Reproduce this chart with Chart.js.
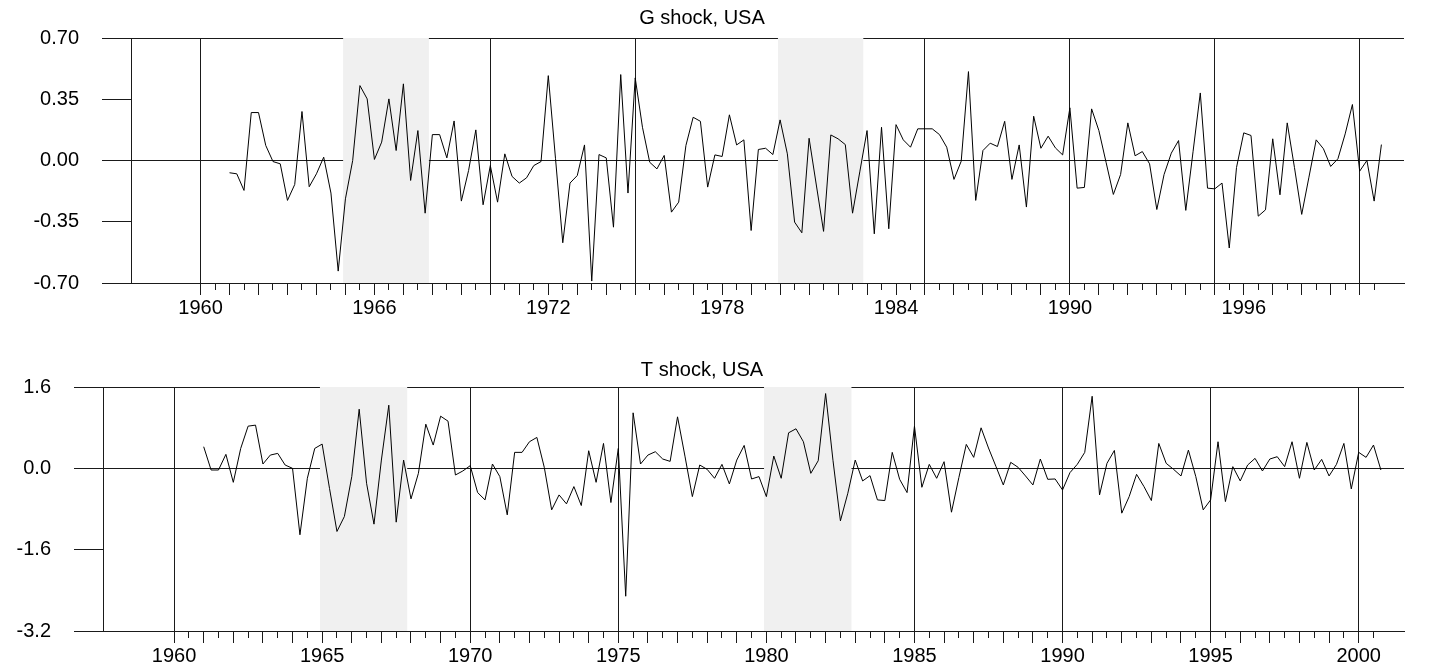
<!DOCTYPE html>
<html><head><meta charset="utf-8">
<script src="https://cdn.jsdelivr.net/npm/chart.js@4.4.1/dist/chart.umd.min.js"></script>
<style>
html,body{margin:0;padding:0;background:#fff;}
#wrap{position:relative;width:1444px;height:672px;overflow:hidden;}
canvas{position:absolute;left:0;}
#c1{top:0;} #c2{top:336px;}
</style></head><body>
<div id="wrap"><canvas id="c1" width="1444" height="336"></canvas><canvas id="c2" width="1444" height="336"></canvas></div>
<script>
// first observation: 1961 Q1, quarterly
const startYear = 1961.0;

const gShock = [
-0.070,-0.076,-0.171,0.274,0.274,0.086,-0.006,-0.019,-0.228,-0.137,
0.280,-0.150,-0.076,0.019,-0.186,-0.632,-0.219,0.000,0.428,0.352,
0.006,0.105,0.352,0.057,0.438,-0.114,0.171,-0.301,0.148,0.148,
0.015,0.226,-0.232,-0.057,0.175,-0.253,-0.029,-0.238,0.038,-0.091,
-0.129,-0.099,-0.029,-0.006,0.485,0.010,-0.470,-0.129,-0.086,0.089,
-0.689,0.034,0.015,-0.381,0.491,-0.186,0.472,0.190,-0.010,-0.048,
0.029,-0.295,-0.238,0.086,0.247,0.224,-0.152,0.032,0.023,0.261,
0.089,0.118,-0.400,0.063,0.070,0.034,0.232,0.038,-0.352,-0.413,
0.127,-0.140,-0.405,0.146,0.124,0.091,-0.301,-0.065,0.171,-0.419,
0.190,-0.390,0.205,0.118,0.076,0.181,0.181,0.181,0.148,0.076,
-0.108,-0.004,0.508,-0.228,0.057,0.099,0.080,0.224,-0.108,0.089,
-0.266,0.253,0.070,0.139,0.072,0.032,0.301,-0.158,-0.154,0.295,
0.171,-0.011,-0.194,-0.080,0.215,0.027,0.051,-0.019,-0.280,-0.080,
0.042,0.114,-0.285,0.050,0.386,-0.158,-0.162,-0.129,-0.500,-0.040,
0.158,0.143,-0.318,-0.282,0.124,-0.196,0.215,-0.040,-0.308,-0.095,
0.118,0.067,-0.034,0.010,0.152,0.320,-0.061,0.000,-0.232,0.091
];

const tShock = [
0.425,-0.033,-0.033,0.275,-0.275,0.392,0.830,0.850,0.085,0.261,
0.294,0.065,0.000,-1.307,-0.196,0.392,0.477,-0.400,-1.242,-0.948,
-0.163,1.163,-0.294,-1.098,0.163,1.242,-1.059,0.163,-0.601,-0.098,
0.869,0.458,1.026,0.928,-0.131,-0.052,0.052,-0.477,-0.621,0.085,
-0.163,-0.915,0.314,0.314,0.523,0.608,0.020,-0.817,-0.523,-0.699,
-0.359,-0.732,0.346,-0.275,0.490,-0.673,0.392,-2.516,1.092,0.085,
0.261,0.327,0.183,0.137,1.013,0.240,-0.556,0.065,-0.020,-0.196,
0.078,-0.307,0.163,0.451,-0.209,-0.163,-0.556,0.242,-0.196,0.699,
0.778,0.523,-0.098,0.150,1.471,0.150,-1.033,-0.490,0.163,-0.248,
-0.144,-0.621,-0.634,0.314,-0.216,-0.477,0.830,-0.373,0.078,-0.196,
0.131,-0.863,-0.180,0.471,0.216,0.797,0.400,0.040,-0.327,0.118,
0.020,-0.150,-0.327,0.183,-0.216,-0.209,-0.425,-0.085,0.080,0.314,
1.418,-0.523,0.098,0.352,-0.882,-0.556,-0.118,-0.359,-0.634,0.490,
0.098,-0.020,-0.150,0.359,-0.163,-0.817,-0.621,0.523,-0.654,0.033,
-0.248,0.065,0.196,-0.052,0.183,0.229,0.033,0.523,-0.196,0.510,
-0.033,0.176,-0.150,0.078,0.490,-0.405,0.314,0.216,0.458,-0.033
];

const gYTicks = [-0.70, -0.35, 0.00, 0.35, 0.70];
const tYTicks = [-3.2, -1.6, 0.0, 1.6];
const gXLabels = [1960, 1966, 1972, 1978, 1984, 1990, 1996];
const tXLabels = [1960, 1965, 1970, 1975, 1980, 1985, 1990, 1995, 2000];
const gridYears = [1960, 1965, 1970, 1975, 1980, 1985, 1990, 1995, 2000];
const shadeStart = [1964.92, 1979.92];
const shadeEnd = [1967.88, 1982.88];
const xMin = 1957.6, xMax = 2001.53;
const tickFirst = 1960, tickLast = 2000.5;

const FAMILY = '"Liberation Sans", Arial, Helvetica, sans-serif';
Chart.defaults.font.family = FAMILY;
Chart.defaults.color = '#000';

const halfYearTicks = [];
for (let v = tickFirst; v <= tickLast; v += 0.5) halfYearTicks.push(v);

const LINE = '#1a1a1a';

function makeChart(id, cfg) {
  const pts = cfg.values.map((v, i) => ({x: startYear + i / 4, y: v}));
  const shades = shadeStart.map((s, k) => ({
    data: [{x: s, y: cfg.yMax}, {x: shadeEnd[k], y: cfg.yMax}],
    borderWidth: 0, pointRadius: 0, fill: 'start',
    backgroundColor: '#f0f0f0', order: 2
  }));
  return new Chart(document.getElementById(id), {
    type: 'line',
    data: {datasets: [
      {data: pts, borderColor: '#000', borderWidth: 1, pointRadius: 0, tension: 0, fill: false, order: 1},
      ...shades
    ]},
    options: {
      responsive: false, animation: false, events: [],
      layout: {padding: {left: 0, right: 40, top: 0, bottom: 0}},
      plugins: {
        legend: {display: false}, tooltip: {enabled: false},
        title: {display: true, text: cfg.title, color: '#000',
          font: {size: 20, weight: 'normal', family: FAMILY, lineHeight: 1.2},
          padding: cfg.titlePad}
      },
      scales: {
        x: {
          type: 'linear', min: xMin, max: xMax, z: 1,
          afterBuildTicks: s => { s.ticks = halfYearTicks.map(v => ({value: v})); },
          afterFit: s => { s.height = cfg.xHeight; },
          ticks: {autoSkip: false, maxRotation: 0, minRotation: 0, padding: 1, color: '#000',
            font: {size: 20, family: FAMILY},
            callback: v => cfg.xLabels.includes(v) ? String(v) : ''},
          grid: {
            color: c => (c.tick && gridYears.includes(c.tick.value)) ? LINE : 'rgba(0,0,0,0)',
            lineWidth: 1, tickLength: 12, tickColor: LINE, tickWidth: 1,
            tickBorderDash: c => (c.tick && c.tick.value % 1 !== 0) ? [6, 40] : []
          },
          border: {display: true, color: LINE, width: 1}
        },
        y: {
          type: 'linear', min: cfg.yMin, max: cfg.yMax, z: 1,
          afterBuildTicks: s => { s.ticks = cfg.yTicks.map(v => ({value: v})); },
          afterFit: s => { s.width = cfg.yWidth; },
          ticks: {padding: 23, color: '#000', font: {size: 20, family: FAMILY},
            callback: v => Number(v).toFixed(cfg.dec)},
          grid: {
            color: c => (c.tick && (c.tick.value === 0 || c.tick.value === cfg.yMin || c.tick.value === cfg.yMax)) ? LINE : 'rgba(0,0,0,0)',
            lineWidth: 1, tickLength: 29, tickColor: LINE, tickWidth: 1
          },
          border: {display: true, color: LINE, width: 1}
        }
      }
    }
  });
}

makeChart('c1', {
  title: 'G shock, USA', values: gShock, yMin: -0.70, yMax: 0.70, yTicks: gYTicks,
  dec: 2, xLabels: gXLabels, yWidth: 131, xHeight: 53, titlePad: {top: 6, bottom: 8}
});
makeChart('c2', {
  title: 'T shock, USA', values: tShock, yMin: -3.2, yMax: 1.6, yTicks: tYTicks,
  dec: 1, xLabels: tXLabels, yWidth: 103, xHeight: 41, titlePad: {top: 22, bottom: 5}
});
</script>
</body></html>
